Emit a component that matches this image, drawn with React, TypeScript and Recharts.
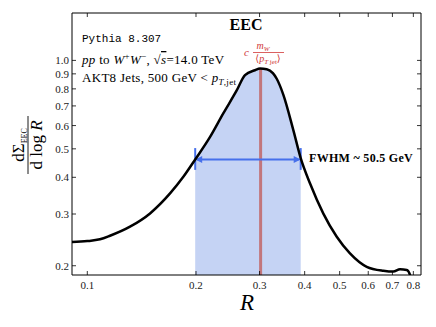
import React from 'react';
import { ComposedChart, Line, Area, XAxis, YAxis, ReferenceLine } from 'recharts';

// EEC curve (R, dSigma/dlogR)
const rValues = [0.09, 0.1, 0.1084, 0.1156, 0.1313, 0.1492, 0.1695, 0.1845, 0.199, 0.2188, 0.238, 0.2593, 0.2734, 0.2914, 0.3009, 0.314, 0.3266, 0.3347, 0.349, 0.3721, 0.39, 0.414, 0.4506, 0.4908, 0.534, 0.5943, 0.6607, 0.7041, 0.7348, 0.767, 0.7833, 0.795];
const eecValues = [0.241, 0.2426, 0.246, 0.253, 0.2716, 0.3014, 0.3525, 0.4015, 0.46, 0.549, 0.66, 0.79, 0.891, 0.926, 0.938, 0.933, 0.905, 0.866, 0.765, 0.579, 0.465, 0.381, 0.301, 0.251, 0.2204, 0.1984, 0.1923, 0.191, 0.1944, 0.1934, 0.186, 0.17];

const fwhmRange = [0.199, 0.39];
const halfMax = 0.46;
const capRange = [0.424, 0.503];
const peakR = 0.302;
const peakValue = 0.936;

const xTicks = [0.1, 0.2, 0.3, 0.4, 0.5, 0.6, 0.7, 0.8];
const yTicks = [0.2, 0.3, 0.4, 0.5, 0.6, 0.7, 0.8, 0.9, 1.0];
const xDomain: [number, number] = [0.0907, 0.84];
const yDomain: [number, number] = [0.186, 1.45];

const rows = rValues.map((r, i) => ({
  r,
  v: eecValues[i],
  fill: r >= fwhmRange[0] && r <= fwhmRange[1] ? eecValues[i] : undefined,
}));

const BLUE = '#4770eb';
const RED = '#d03838';
const SERIF = '"Liberation Serif", "DejaVu Serif", serif';

const BottomTick = (p: any) => (
  <g>
    <line x1={p.x} x2={p.x} y1={p.y} y2={p.y - 4} stroke="#000" strokeWidth={0.8} />
    <text x={p.x} y={p.y + 14} textAnchor="middle" fontSize={11} fontFamily={SERIF} fill="#222">
      {String(p.payload.value)}
    </text>
  </g>
);
const TopTick = (p: any) => <line x1={p.x} x2={p.x} y1={p.y} y2={p.y + 4} stroke="#000" strokeWidth={0.8} />;
const LeftTick = (p: any) => (
  <g>
    <line x1={p.x} x2={p.x + 4} y1={p.y} y2={p.y} stroke="#000" strokeWidth={0.8} />
    <text x={p.x - 3} y={p.y + 4} textAnchor="end" fontSize={11} fontFamily={SERIF} fill="#222">
      {p.payload.value.toFixed(1)}
    </text>
  </g>
);
const RightTick = (p: any) => <line x1={p.x} x2={p.x - 4} y1={p.y} y2={p.y} stroke="#000" strokeWidth={0.8} />;

const DoubleArrow = (p: any) => {
  const { x1, y1, x2, y2 } = p;
  const h = 7;
  const w = 3.5;
  return (
    <g>
      <line x1={x1 + 2} x2={x2 - 2} y1={y1} y2={y2} stroke={BLUE} strokeWidth={2} />
      <polygon points={`${x1},${y1} ${x1 + h},${y1 - w} ${x1 + h},${y1 + w}`} fill={BLUE} />
      <polygon points={`${x2},${y2} ${x2 - h},${y2 - w} ${x2 - h},${y2 + w}`} fill={BLUE} />
    </g>
  );
};

const axisCommon = {
  type: 'number' as const,
  scale: 'log' as const,
  allowDataOverflow: true,
  tickLine: false,
  tickSize: 0,
  tickMargin: 0,
  interval: 0 as const,
  axisLine: { stroke: '#000', strokeWidth: 1 },
};

export default function App() {
  return (
    <div style={{ position: 'absolute', left: 0, top: 0, width: 436, height: 327, background: '#fff' }}>
      <ComposedChart width={436} height={327} data={rows} margin={{ top: 0, right: 0, bottom: 0, left: 0 }}>
        <XAxis {...axisCommon} xAxisId="b" dataKey="r" domain={xDomain} ticks={xTicks} orientation="bottom" height={52} tick={<BottomTick />} />
        <XAxis {...axisCommon} xAxisId="t" dataKey="r" domain={xDomain} ticks={xTicks} orientation="top" height={13} tick={<TopTick />} />
        <YAxis {...axisCommon} yAxisId="l" domain={yDomain} ticks={yTicks} width={72} tick={<LeftTick />} />
        <YAxis {...axisCommon} yAxisId="r" domain={yDomain} ticks={yTicks} orientation="right" width={15} tick={<RightTick />} />
        <Area
          xAxisId="b"
          yAxisId="l"
          dataKey="fill"
          type="monotone"
          stroke="none"
          fill="#c5d3f4"
          fillOpacity={1}
          baseValue={yDomain[0]}
          isAnimationActive={false}
        />
        <ReferenceLine
          xAxisId="b"
          yAxisId="l"
          segment={[{ x: peakR, y: yDomain[0] }, { x: peakR, y: peakValue }]}
          stroke="#c0392b"
          strokeOpacity={0.6}
          strokeWidth={3}
          ifOverflow="hidden"
        />
        <ReferenceLine
          xAxisId="b"
          yAxisId="l"
          segment={[{ x: fwhmRange[0], y: halfMax }, { x: fwhmRange[1], y: halfMax }]}
          shape={DoubleArrow}
        />
        <ReferenceLine xAxisId="b" yAxisId="l" segment={[{ x: fwhmRange[0], y: capRange[0] }, { x: fwhmRange[0], y: capRange[1] }]} stroke={BLUE} strokeWidth={2} />
        <ReferenceLine xAxisId="b" yAxisId="l" segment={[{ x: fwhmRange[1], y: capRange[0] }, { x: fwhmRange[1], y: capRange[1] }]} stroke={BLUE} strokeWidth={2} />
        <Line xAxisId="b" yAxisId="l" dataKey="v" type="monotone" stroke="#000" strokeWidth={2.5} dot={false} isAnimationActive={false} />
      </ComposedChart>
      <svg width={436} height={327} style={{ position: 'absolute', left: 0, top: 0, pointerEvents: 'none' }} fontFamily={SERIF}>
        <text x={246} y={30} textAnchor="middle" fontWeight="bold" fontSize={16}>EEC</text>
        <text x={82} y={42} fontFamily='"Liberation Mono", monospace' fontSize={11}>Pythia 8.307</text>
        <text x={82} y={64} fontSize={13} letterSpacing={0.3}>
          <tspan fontStyle="italic">pp</tspan> to <tspan fontStyle="italic">W</tspan>
          <tspan dy={-5} fontSize={9}>+</tspan>
          <tspan dy={5} fontStyle="italic">W</tspan>
          <tspan dy={-5} fontSize={9}>−</tspan>
          <tspan dy={5}>, √</tspan>
          <tspan fontStyle="italic" style={{ textDecoration: 'overline' }}>s</tspan>=14.0 TeV
        </text>
        <text x={82} y={82} fontSize={13} letterSpacing={0.3}>
          AKT8 Jets, 500 GeV &lt; <tspan fontStyle="italic">p</tspan>
          <tspan dy={3} fontSize={9} fontStyle="italic">T</tspan>
          <tspan fontSize={9}>,jet</tspan>
        </text>
        <text x={309} y={162} fontSize={12} fontWeight="bold" letterSpacing={0.3}>FWHM ~ 50.5 GeV</text>
        <g fill={RED}>
          <text x={244} y={56} fontSize={11} fontStyle="italic">c</text>
          <text x={263} y={49} fontSize={10} textAnchor="middle">
            <tspan fontStyle="italic">m</tspan>
            <tspan dy={2} fontSize={7} fontStyle="italic">W</tspan>
          </text>
          <line x1={253} x2={284} y1={52.5} y2={52.5} stroke={RED} strokeWidth={0.8} />
          <text x={268} y={62} fontSize={10} textAnchor="middle">
            ⟨<tspan fontStyle="italic">p</tspan>
            <tspan dy={2} fontSize={7} fontStyle="italic">T</tspan>
            <tspan fontSize={7}> jet</tspan>
            <tspan dy={-2}>⟩</tspan>
          </text>
        </g>
        <g transform="translate(28,145) rotate(-90)">
          <text x={0} y={-4} textAnchor="middle" fontSize={17}>
            dΣ<tspan dy={3} fontSize={8}>EEC</tspan>
          </text>
          <line x1={-29} x2={29} y1={0} y2={0} stroke="#000" strokeWidth={0.9} />
          <text x={0} y={14} textAnchor="middle" fontSize={17}>
            d log <tspan fontStyle="italic">R</tspan>
          </text>
        </g>
        <text x={247} y={310} textAnchor="middle" fontSize={23} fontStyle="italic">R</text>
      </svg>
    </div>
  );
}
